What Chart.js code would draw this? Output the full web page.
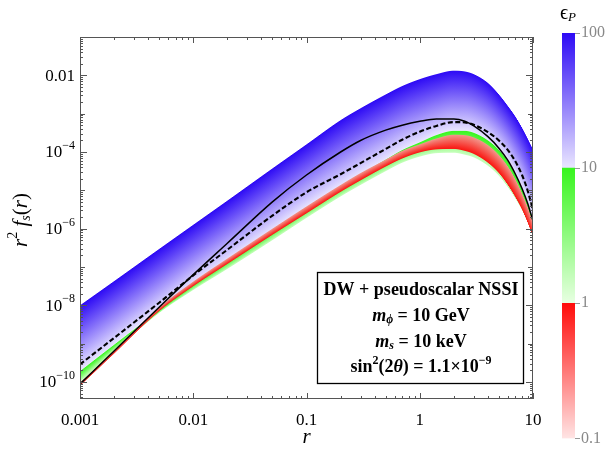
<!DOCTYPE html>
<html>
<head>
<meta charset="utf-8">
<script src="https://cdn.jsdelivr.net/npm/chart.js@4"></script>
<style>
  body { margin: 0; background: #fff; }
  #wrap { position: relative; width: 608px; height: 449px; }
  #main { position: absolute; left: 0; top: 0; width: 545px; height: 449px; }
  #bar { position: absolute; left: 545px; top: 0; width: 63px; height: 449px; }
</style>
</head>
<body>
<div id="wrap">
  <div id="main"><canvas id="plot"></canvas></div>
  <div id="bar"><canvas id="legendBar"></canvas></div>
</div>
<script>
// r grid and curves
const rVals = [0.001, 0.002, 0.005, 0.01, 0.02, 0.05, 0.1, 0.2, 0.3, 0.5, 0.7, 1, 1.4, 2, 2.5, 3, 4, 5, 6, 7, 8, 9, 10];

// band edges (eps_P family)
const eps100   = [1.0e-8, 4.27e-8, 2.95e-7, 1.26e-6, 5.37e-6, 3.72e-5, 1.58e-4, 6.76e-4, 1.38e-3, 3.16e-3, 5.25e-3, 7.94e-3, 1.07e-2, 1.32e-2, 1.26e-2, 1.07e-2, 6.31e-3, 3.16e-3, 1.58e-3, 8.32e-4, 4.27e-4, 2.19e-4, 1.15e-4];
const eps10    = [1.91e-10, 9.33e-10, 7.41e-9, 3.47e-8, 1.41e-7, 8.71e-7, 3.47e-6, 1.26e-5, 2.63e-5, 6.31e-5, 1.12e-4, 1.78e-4, 2.75e-4, 3.55e-4, 3.55e-4, 3.16e-4, 2.0e-4, 1.12e-4, 5.62e-5, 2.51e-5, 1.12e-5, 4.47e-6, 1.58e-6];
const greenLow = [1.0e-10, 6.31e-10, 6.31e-9, 2.51e-8, 8.91e-8, 5.01e-7, 1.91e-6, 6.92e-6, 1.38e-5, 3.16e-5, 5.25e-5, 7.59e-5, 9.33e-5, 9.55e-5, 8.51e-5, 7.24e-5, 4.37e-5, 2.40e-5, 1.20e-5, 6.03e-6, 3.02e-6, 1.41e-6, 6.31e-7];
const redHigh  = [9.55e-11, 6.76e-10, 8.91e-9, 4.17e-8, 1.66e-7, 1.0e-6, 3.80e-6, 1.38e-5, 2.82e-5, 6.31e-5, 1.07e-4, 1.58e-4, 2.24e-4, 2.82e-4, 2.75e-4, 2.40e-4, 1.51e-4, 8.32e-5, 4.17e-5, 1.91e-5, 8.32e-6, 3.55e-6, 1.41e-6];
const redLow   = [7.94e-11, 5.50e-10, 7.08e-9, 3.16e-8, 1.20e-7, 6.92e-7, 2.51e-6, 9.12e-6, 1.82e-5, 4.17e-5, 6.76e-5, 9.77e-5, 1.17e-4, 1.20e-4, 1.07e-4, 8.91e-5, 5.25e-5, 2.82e-5, 1.38e-5, 6.61e-6, 3.16e-6, 1.41e-6, 6.03e-7];

// black reference curves
const dashedRef = [2.88e-10, 1.41e-9, 1.17e-8, 6.03e-8, 2.82e-7, 2.19e-6, 8.91e-6, 2.63e-5, 5.13e-5, 1.20e-4, 2.09e-4, 3.39e-4, 4.79e-4, 6.03e-4, 5.89e-4, 5.13e-4, 3.31e-4, 2.0e-4, 1.12e-4, 5.62e-5, 2.51e-5, 9.55e-6, 3.02e-6];
const solidRef  = [8.91e-11, 6.46e-10, 8.91e-9, 6.31e-8, 4.17e-7, 5.01e-6, 2.51e-5, 1.0e-4, 2.0e-4, 3.72e-4, 5.01e-4, 6.31e-4, 7.24e-4, 7.24e-4, 6.31e-4, 4.79e-4, 2.51e-4, 1.26e-4, 6.03e-5, 2.63e-5, 1.12e-5, 4.47e-6, 1.58e-6];

// axes
const xTickVals = [0.001, 0.01, 0.1, 1, 10];
const xTickLabels = ['0.001', '0.01', '0.1', '1', '10'];
const yTickVals = [1e-10, 1e-8, 1e-6, 1e-4, 1e-2];
const yTickLabels = ['10^−10', '10^−8', '10^−6', '10^−4', '0.01'];

// colour bar
const barTickVals = [0.1, 1, 10, 100];
const barTickLabels = ['0.1', '1', '10', '100'];
const barSegs = [[0.1, 1], [1, 10], [10, 100]];
const barColors = [
    ['rgb(255,12,10)', 'rgb(255,228,228)'],
    ['rgb(55,245,30)', 'rgb(232,255,226)'],
    ['rgb(45,10,245)', 'rgb(234,230,255)']
];

const SERIF = "'Liberation Serif', 'Times New Roman', serif";

const pts = arr => rVals.map((r, i) => ({ x: r, y: arr[i] }));
const edge = arr => ({ data: pts(arr), showLine: false, pointRadius: 0, borderWidth: 0 });

// which edge datasets bound each coloured band, top colour -> bottom colour
const bands = [
    { upper: 0, lower: 1, top: 'rgb(45,10,245)', bottom: 'rgb(234,230,255)' },
    { upper: 1, lower: 2, top: 'rgb(55,245,30)', bottom: 'rgb(200,255,190)' },
    { upper: 3, lower: 4, top: 'rgb(242,150,140)', bottom: 'rgb(250,20,15)' }
];

// monotone cubic, same idea chart.js uses for its lines
function makeSpline(xs, ys) {
    const n = xs.length, d = [], m = [];
    for (let i = 0; i < n - 1; i++) d.push((ys[i + 1] - ys[i]) / (xs[i + 1] - xs[i]));
    m.push(d[0]);
    for (let i = 1; i < n - 1; i++) m.push(d[i - 1] * d[i] <= 0 ? 0 : (d[i - 1] + d[i]) / 2);
    m.push(d[n - 2]);
    for (let i = 0; i < n - 1; i++) {
        if (d[i] === 0) { m[i] = 0; m[i + 1] = 0; continue; }
        const a = m[i] / d[i], b = m[i + 1] / d[i], s = a * a + b * b;
        if (s > 9) { const t = 3 / Math.sqrt(s); m[i] = t * a * d[i]; m[i + 1] = t * b * d[i]; }
    }
    return x => {
        let i = 0;
        while (i < n - 2 && x > xs[i + 1]) i++;
        const h = xs[i + 1] - xs[i], t = (x - xs[i]) / h, t2 = t * t, t3 = t2 * t;
        return (2 * t3 - 3 * t2 + 1) * ys[i] + (t3 - 2 * t2 + t) * h * m[i] +
               (-2 * t3 + 3 * t2) * ys[i + 1] + (t3 - t2) * h * m[i + 1];
    };
}

const edgeSpline = (chart, idx) => {
    const meta = chart.getDatasetMeta(idx);
    return makeSpline(meta.data.map(p => p.x), meta.data.map(p => p.y));
};

const bandPlugin = {
    id: 'bands',
    beforeDatasetsDraw(chart) {
        const ctx = chart.ctx, a = chart.chartArea;
        ctx.save();
        ctx.beginPath();
        ctx.rect(a.left, a.top, a.width, a.height);
        ctx.clip();
        bands.forEach(b => {
            const up = edgeSpline(chart, b.upper), lo = edgeSpline(chart, b.lower);
            for (let x = Math.floor(a.left); x < Math.ceil(a.right); x++) {
                const y1 = up(x + 0.5), y2 = lo(x + 0.5);
                const g = ctx.createLinearGradient(0, y1, 0, y2 + 0.01);
                g.addColorStop(0, b.top);
                g.addColorStop(1, b.bottom);
                ctx.fillStyle = g;
                ctx.fillRect(x, y1, 1, y2 - y1);
            }
        });
        ctx.restore();
    }
};

// draw a run of styled text pieces, centred or aligned at x
function richText(ctx, parts, x, y, align) {
    let w = 0;
    parts.forEach(p => { ctx.font = p.f; p.w = ctx.measureText(p.t).width; w += p.w; });
    let cx = align === 'right' ? x - w : align === 'left' ? x : x - w / 2;
    ctx.textBaseline = 'middle';
    ctx.textAlign = 'left';
    parts.forEach(p => { ctx.font = p.f; ctx.fillText(p.t, cx, y + (p.dy || 0)); cx += p.w; });
}

const decorPlugin = {
    id: 'decor',
    afterDraw(chart) {
        const { ctx, chartArea: a, scales: { x, y } } = chart;
        ctx.save();
        // frame
        ctx.strokeStyle = '#555';
        ctx.lineWidth = 1;
        ctx.strokeRect(Math.round(a.left) + 0.5, Math.round(a.top) + 0.5,
                       Math.round(a.width) - 1, Math.round(a.height) - 1);
        // inward ticks on all four sides
        ctx.beginPath();
        for (let k = -3; k <= 1; k++) {
            for (let m = 1; m <= 9; m++) {
                const v = m * Math.pow(10, k);
                if (v < x.min * 0.999 || v > x.max * 1.001) continue;
                const px = Math.round(x.getPixelForValue(v)) + 0.5, len = m === 1 ? 6 : 3;
                ctx.moveTo(px, a.bottom); ctx.lineTo(px, a.bottom - len);
                ctx.moveTo(px, a.top); ctx.lineTo(px, a.top + len);
            }
        }
        for (let k = -11; k <= -1; k++) {
            for (let m = 1; m <= 9; m++) {
                const v = m * Math.pow(10, k);
                if (v < y.min || v > y.max * 1.001) continue;
                const py = Math.round(y.getPixelForValue(v)) + 0.5;
                const len = m === 1 ? (k % 2 === 0 ? 7 : 5) : 3;
                ctx.moveTo(a.left, py); ctx.lineTo(a.left + len, py);
                ctx.moveTo(a.right, py); ctx.lineTo(a.right - len, py);
            }
        }
        ctx.stroke();

        ctx.fillStyle = '#000';
        // y tick labels with raised exponents
        yTickVals.forEach((v, i) => {
            const py = y.getPixelForValue(v);
            const [base, exp] = yTickLabels[i].split('^');
            const parts = [{ t: base, f: '17px ' + SERIF }];
            if (exp) parts.push({ t: exp, f: '12px ' + SERIF, dy: -7 });
            richText(ctx, parts, a.left - 5, py + 1, 'right');
        });

        // axis titles
        richText(ctx, [{ t: 'r', f: 'italic 21px ' + SERIF }], (a.left + a.right) / 2, 437, 'center');
        ctx.save();
        ctx.translate(21, (a.top + a.bottom) / 2 + 2);
        ctx.rotate(-Math.PI / 2);
        richText(ctx, [
            { t: 'r', f: 'italic 21px ' + SERIF },
            { t: '2', f: '14px ' + SERIF, dy: -8 },
            { t: ' f', f: 'italic 21px ' + SERIF },
            { t: 's', f: 'italic 14px ' + SERIF, dy: 5 },
            { t: '(', f: '21px ' + SERIF },
            { t: 'r', f: 'italic 21px ' + SERIF },
            { t: ')', f: '21px ' + SERIF }
        ], 0, 0, 'center');
        ctx.restore();

        // parameter box
        const bx = 317, by = 272, bw = 206, bh = 111;
        ctx.fillStyle = '#fff';
        ctx.fillRect(bx, by, bw, bh);
        ctx.strokeStyle = '#000';
        ctx.lineWidth = 1.3;
        ctx.strokeRect(bx + 0.5, by + 0.5, bw, bh);
        ctx.fillStyle = '#000';
        const B = 'bold 18px ' + SERIF, BI = 'bold italic 18px ' + SERIF;
        const BS = 'bold 12px ' + SERIF, BIS = 'bold italic 12px ' + SERIF;
        const cx = bx + bw / 2 + 1;
        richText(ctx, [{ t: 'DW + pseudoscalar NSSI', f: B }], cx, 290);
        richText(ctx, [{ t: 'm', f: BI }, { t: 'ϕ', f: BIS, dy: 4 }, { t: ' = 10 GeV', f: B }], cx, 316);
        richText(ctx, [{ t: 'm', f: BI }, { t: 's', f: BIS, dy: 4 }, { t: ' = 10 keV', f: B }], cx, 342);
        richText(ctx, [
            { t: 'sin', f: B }, { t: '2', f: BS, dy: -6 }, { t: '(2', f: B }, { t: 'θ', f: BI },
            { t: ') = 1.1×10', f: B }, { t: '−9', f: BS, dy: -6 }
        ], cx, 367);
        ctx.restore();
    }
};

new Chart(document.getElementById('plot'), {
    type: 'line',
    data: {
        datasets: [
            edge(eps100),
            edge(eps10),
            edge(greenLow),
            edge(redHigh),
            edge(redLow),
            {
                data: pts(dashedRef), borderColor: '#000', borderWidth: 2.1, borderDash: [5, 2.5],
                pointRadius: 0, cubicInterpolationMode: 'monotone'
            },
            {
                data: pts(solidRef), borderColor: '#000', borderWidth: 1.5,
                pointRadius: 0, cubicInterpolationMode: 'monotone'
            }
        ]
    },
    options: {
        responsive: true,
        maintainAspectRatio: false,
        animation: false,
        layout: { padding: { top: 37, right: 12, left: 0, bottom: 0 } },
        plugins: { legend: { display: false }, tooltip: { enabled: false } },
        scales: {
            x: {
                type: 'logarithmic', min: 0.001, max: 10,
                afterBuildTicks: s => { s.ticks = xTickVals.map(v => ({ value: v })); },
                afterFit: s => { s.height = 50; },
                ticks: {
                    autoSkip: false, maxRotation: 0, padding: 3, color: '#000',
                    font: { family: SERIF, size: 17 },
                    callback: (v, i) => xTickLabels[i]
                },
                grid: { display: false },
                border: { display: false }
            },
            y: {
                type: 'logarithmic', min: 3.6e-11, max: 0.1,
                afterBuildTicks: s => { s.ticks = yTickVals.map(v => ({ value: v })); },
                afterFit: s => { s.width = 80; },
                ticks: { display: false },
                grid: { display: false },
                border: { display: false }
            }
        }
    },
    plugins: [bandPlugin, decorPlugin]
});

// colour bar legend
const barTitle = {
    id: 'barTitle',
    afterDraw(chart) {
        const ctx = chart.ctx;
        ctx.save();
        ctx.fillStyle = '#000';
        richText(ctx, [{ t: 'ϵ', f: '20px ' + SERIF }, { t: 'P', f: 'italic 13px ' + SERIF, dy: 4 }], 23, 14, 'center');
        ctx.restore();
    }
};

new Chart(document.getElementById('legendBar'), {
    type: 'bar',
    data: {
        labels: [''],
        datasets: barSegs.map((seg, i) => ({
            data: [seg],
            grouped: false,
            barPercentage: 1,
            categoryPercentage: 1,
            borderWidth: 0,
            backgroundColor: c => {
                const chart = c.chart;
                if (!chart.chartArea) return barColors[i][0];
                const y = chart.scales.y;
                const g = chart.ctx.createLinearGradient(0, y.getPixelForValue(seg[1]), 0, y.getPixelForValue(seg[0]));
                g.addColorStop(0, barColors[i][0]);
                g.addColorStop(1, barColors[i][1]);
                return g;
            }
        }))
    },
    options: {
        responsive: true,
        maintainAspectRatio: false,
        animation: false,
        layout: { padding: { left: 17, top: 33, bottom: 8, right: 0 } },
        plugins: { legend: { display: false }, tooltip: { enabled: false } },
        scales: {
            x: { display: false },
            y: {
                type: 'logarithmic', position: 'right', min: 0.1, max: 100,
                afterBuildTicks: s => { s.ticks = barTickVals.map(v => ({ value: v })); },
                afterFit: s => { s.width = 33; },
                ticks: {
                    autoSkip: false, color: '#888', padding: 1,
                    font: { family: SERIF, size: 16 },
                    callback: (v, i) => barTickLabels[i]
                },
                grid: { drawOnChartArea: false, color: '#999', tickLength: 5 },
                border: { display: false }
            }
        }
    },
    plugins: [barTitle]
});
</script>
</body>
</html>
